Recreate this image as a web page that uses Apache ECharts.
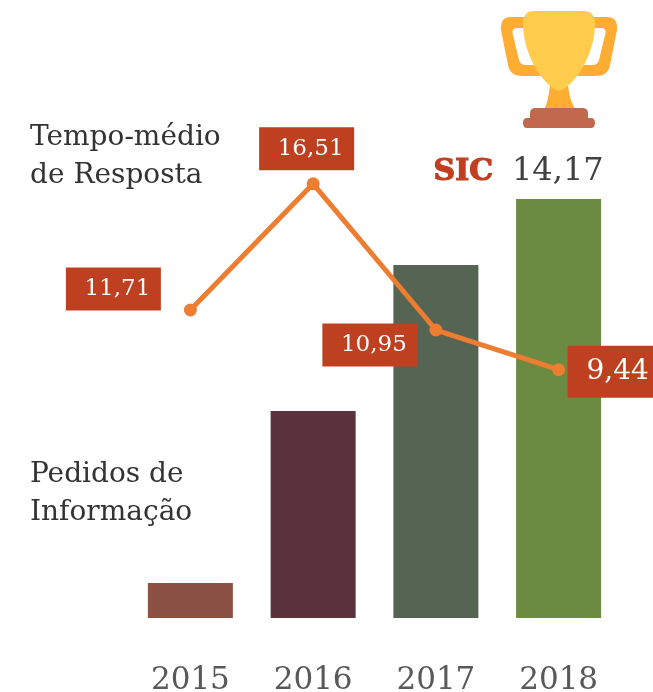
<!DOCTYPE html>
<html><head><meta charset="utf-8">
<style>html,body{margin:0;padding:0;background:#fff}#c{width:653px;height:692px}</style>
<script src="https://cdn.jsdelivr.net/npm/echarts@6/dist/echarts.min.js"></script>
</head><body><div id="c"></div>
<script>
const years = ['2015','2016','2017','2018'];
const pedidos = [35, 207, 353, 419];
const tempo = [11.71, 16.51, 10.95, 9.44];
const tempoLabels = ['11,71','16,51','10,95','9,44'];
const barColors = ['#8B5142','#5B333C','#566453','#6B8B43'];
const F = '"DejaVu Serif"';
const red = '#BE4020';
const chart = echarts.init(document.getElementById('c'), null, {renderer:'canvas'});
const lab = (w,h,fs,off,pad) => ({show:true,position:'inside',offset:off,width:w,height:h,lineHeight:h,align:'center',verticalAlign:'middle',
  padding:pad,backgroundColor:red,color:'#fff',fontFamily:F,fontSize:fs});
const labelBoxes = [
  [87,43,23,[-77,-21],[0,0,0,8]],
  [87,43,23,[-6.5,-35],[0,0,0,8]],
  [87,43,23,[-66,15],[0,0,0,8]],
  [100,52,28,[59,2],[0,0,0,0]]
];
const trophyParts = [
  ['M526 17 H511 Q500 17 501 30 L508 65 Q510 76 522 76 H542 L542 65 H526 Q520 65 519 60 L512.5 33 Q512 28 517 28 H528 Z M592 17 H607 Q618 17 617 30 L610 65 Q608 76 596 76 H576 L576 65 H592 Q598 65 599 60 L605.5 33 Q606 28 601 28 H590 Z','#FFAC33'],
  ['M550 86 L568 86 Q570 102 576 110 H544 Q548 102 550 86 Z','#FFAC33'],
  ['M534 11 H584 Q595 11 595 24 C595 50 580 78 565 88 Q559 93 553 88 C538 78 523 50 523 24 Q523 11 534 11 Z','#FFCC4D'],
  ['M530 118 V113 Q530 108 536 108 H582 Q588 108 588 113 V118 H591 Q595 118 595 123 Q595 128 591 128 H527 Q523 128 523 123 Q523 118 527 118 Z','#C1694F']
];
chart.setOption({
  animation:false,
  grid:{left:129,right:33,top:92,bottom:74,outerBoundsMode:'none'},
  xAxis:{type:'category',data:years,axisLine:{show:false},axisTick:{show:false},
    axisLabel:{color:'#595959',fontFamily:F,fontSize:31,margin:47}},
  yAxis:[{type:'value',min:0,max:526,show:false},{type:'value',min:0,max:20,show:false}],
  series:[
    {type:'bar',data:pedidos.map((v,i)=>({value:v,itemStyle:{color:barColors[i]}})),barWidth:85},
    {type:'line',yAxisIndex:1,data:tempo.map((v,i)=>({value:v,label:{...lab(...labelBoxes[i]),formatter:tempoLabels[i]}})),
     lineStyle:{color:'#ED7D31',width:5},itemStyle:{color:'#ED7D31'},symbol:'circle',symbolSize:13,z:3},
    {type:'custom',coordinateSystem:'none',data:[0],silent:true,clip:false,renderItem:()=>({type:'group',children:trophyParts.map(p=>({type:'path',shape:{pathData:p[0]},style:{fill:p[1]}}))})}
  ],
  graphic:[
    {type:'text',left:30,top:119,style:{text:'Tempo-médio\nde Resposta',fontFamily:F,fontSize:28,lineHeight:38,fill:'#333'}},
    {type:'text',left:30,top:456,style:{text:'Pedidos de\nInformação',fontFamily:F,fontSize:28,lineHeight:38,fill:'#333'}},
    {type:'text',left:433,top:157,style:{text:'SIC',fontFamily:F,fontSize:30,fontWeight:'bold',fill:red,stroke:red,lineWidth:1.2}},
    {type:'text',left:512,top:156,style:{text:'14,17',fontFamily:F,fontSize:32,fill:'#404040'}}
  ]
});
</script></body></html>
